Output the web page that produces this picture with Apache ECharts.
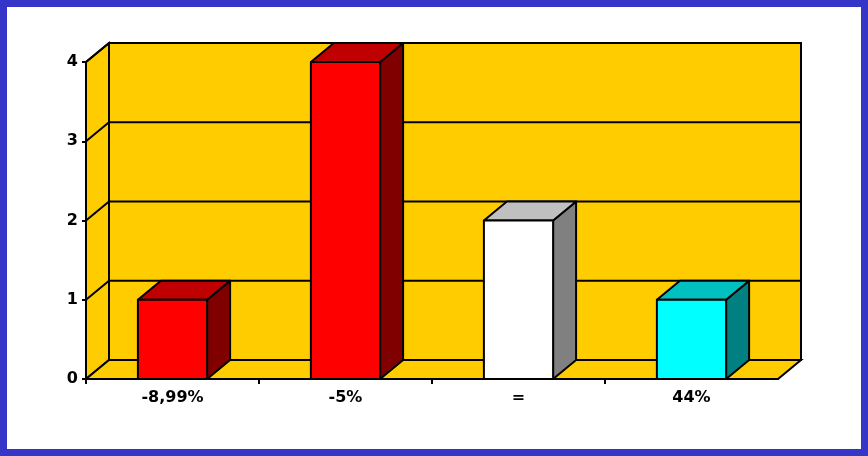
<!DOCTYPE html>
<html>
<head>
<meta charset="utf-8">
<script src="https://cdn.jsdelivr.net/npm/echarts@6/dist/echarts.min.js"></script>
<style>
html,body{margin:0;padding:0;background:#fff;}
#c{width:868px;height:456px;}
</style>
</head>
<body>
<div id="c"></div>
<script>
const categories = ['-8,99%', '-5%', '=', '44%'];
const values = [1, 4, 2, 1];
const yTicks = [0, 1, 2, 3, 4];

const barColors = [
  {front: '#FF0000', top: '#C00000', side: '#800000'},
  {front: '#FF0000', top: '#C00000', side: '#800000'},
  {front: '#FFFFFF', top: '#C0C0C0', side: '#808080'},
  {front: '#00FFFF', top: '#00C0C0', side: '#008080'}
];
const DX = 23, DY = -19;
const WALL = '#FFCC00';
const LW = 2;

const chart = echarts.init(document.getElementById('c'));

function wallItem(params, api) {
  const v = api.value(0);
  const n = categories.length;
  const cw = api.size([1, 0])[0];
  const p0 = api.coord([0, v]);
  const left = p0[0] - cw / 2;
  const right = left + cw * n;
  const y = p0[1];
  const children = [];
  const ln = {stroke: '#000', lineWidth: LW};
  if (params.dataIndex === 0) {
    const yTop = api.coord([0, yTicks[yTicks.length - 1]])[1];
    const yBot = y;
    children.push({type: 'polygon', shape: {points: [[left, yBot], [left + DX, yBot + DY], [left + DX, yTop + DY], [left, yTop]]}, style: Object.assign({fill: WALL}, ln)});
    children.push({type: 'rect', shape: {x: left + DX, y: yTop + DY, width: right - left, height: yBot - yTop}, style: Object.assign({fill: WALL}, ln)});
    children.push({type: 'polygon', shape: {points: [[left, yBot], [right, yBot], [right + DX, yBot + DY], [left + DX, yBot + DY]]}, style: Object.assign({fill: WALL}, ln)});
    for (let k = 0; k < n; k++) {
      const tx = left + cw * k;
      children.push({type: 'line', shape: {x1: tx, y1: yBot, x2: tx, y2: yBot + 5}, style: ln});
    }
  } else {
    children.push({type: 'line', shape: {x1: left, y1: y, x2: left + DX, y2: y + DY}, style: ln});
    children.push({type: 'line', shape: {x1: left + DX, y1: y + DY, x2: right + DX, y2: y + DY}, style: ln});
  }
  return {type: 'group', children: children};
}

function barItem(params, api) {
  const i = api.value(0);
  const top = api.coord([i, api.value(1)]);
  const base = api.coord([i, 0]);
  const bw = api.size([1, 0])[0] * 0.4;
  const l = top[0] - bw / 2, r = top[0] + bw / 2, t = top[1], b = base[1];
  const c = barColors[i];
  const st = {stroke: '#000', lineWidth: LW, lineJoin: 'round'};
  return {type: 'group', children: [
    {type: 'polygon', shape: {points: [[r, t], [r + DX, t + DY], [r + DX, b + DY], [r, b]]}, style: Object.assign({fill: c.side}, st)},
    {type: 'polygon', shape: {points: [[l, t], [l + DX, t + DY], [r + DX, t + DY], [r, t]]}, style: Object.assign({fill: c.top}, st)},
    {type: 'rect', shape: {x: l, y: t, width: bw, height: b - t}, style: Object.assign({fill: c.front}, st)}
  ]};
}

chart.setOption({
  animation: false,
  backgroundColor: '#fff',
  grid: {left: 86, right: 90, top: 62, bottom: 77},
  xAxis: {
    type: 'category',
    data: categories,
    axisLine: {show: true, lineStyle: {color: '#000', width: LW}},
    axisTick: {show: false},
    axisLabel: {color: '#000', fontFamily: 'DejaVu Sans', fontWeight: 'bold', fontSize: 16, margin: 11}
  },
  yAxis: {
    type: 'value',
    min: 0, max: 4, interval: 1,
    axisLine: {show: true, lineStyle: {color: '#000', width: LW}},
    axisTick: {show: true, length: 4, lineStyle: {color: '#000', width: LW}},
    splitLine: {show: false},
    axisLabel: {color: '#000', fontFamily: 'DejaVu Sans', fontWeight: 'bold', fontSize: 16, margin: 8}
  },
  graphic: [{
    type: 'rect', z: 100, silent: true,
    shape: {x: 3.5, y: 3.5, width: 861, height: 449},
    style: {fill: 'none', stroke: '#3535C8', lineWidth: 7}
  }],
  series: [
    {type: 'custom', renderItem: wallItem, data: yTicks.map(v => [v]), z: 1, silent: true},
    {type: 'custom', renderItem: barItem, data: values.map((v, i) => [i, v]), z: 2, encode: {x: 0, y: 1}}
  ]
});
</script>
</body>
</html>
